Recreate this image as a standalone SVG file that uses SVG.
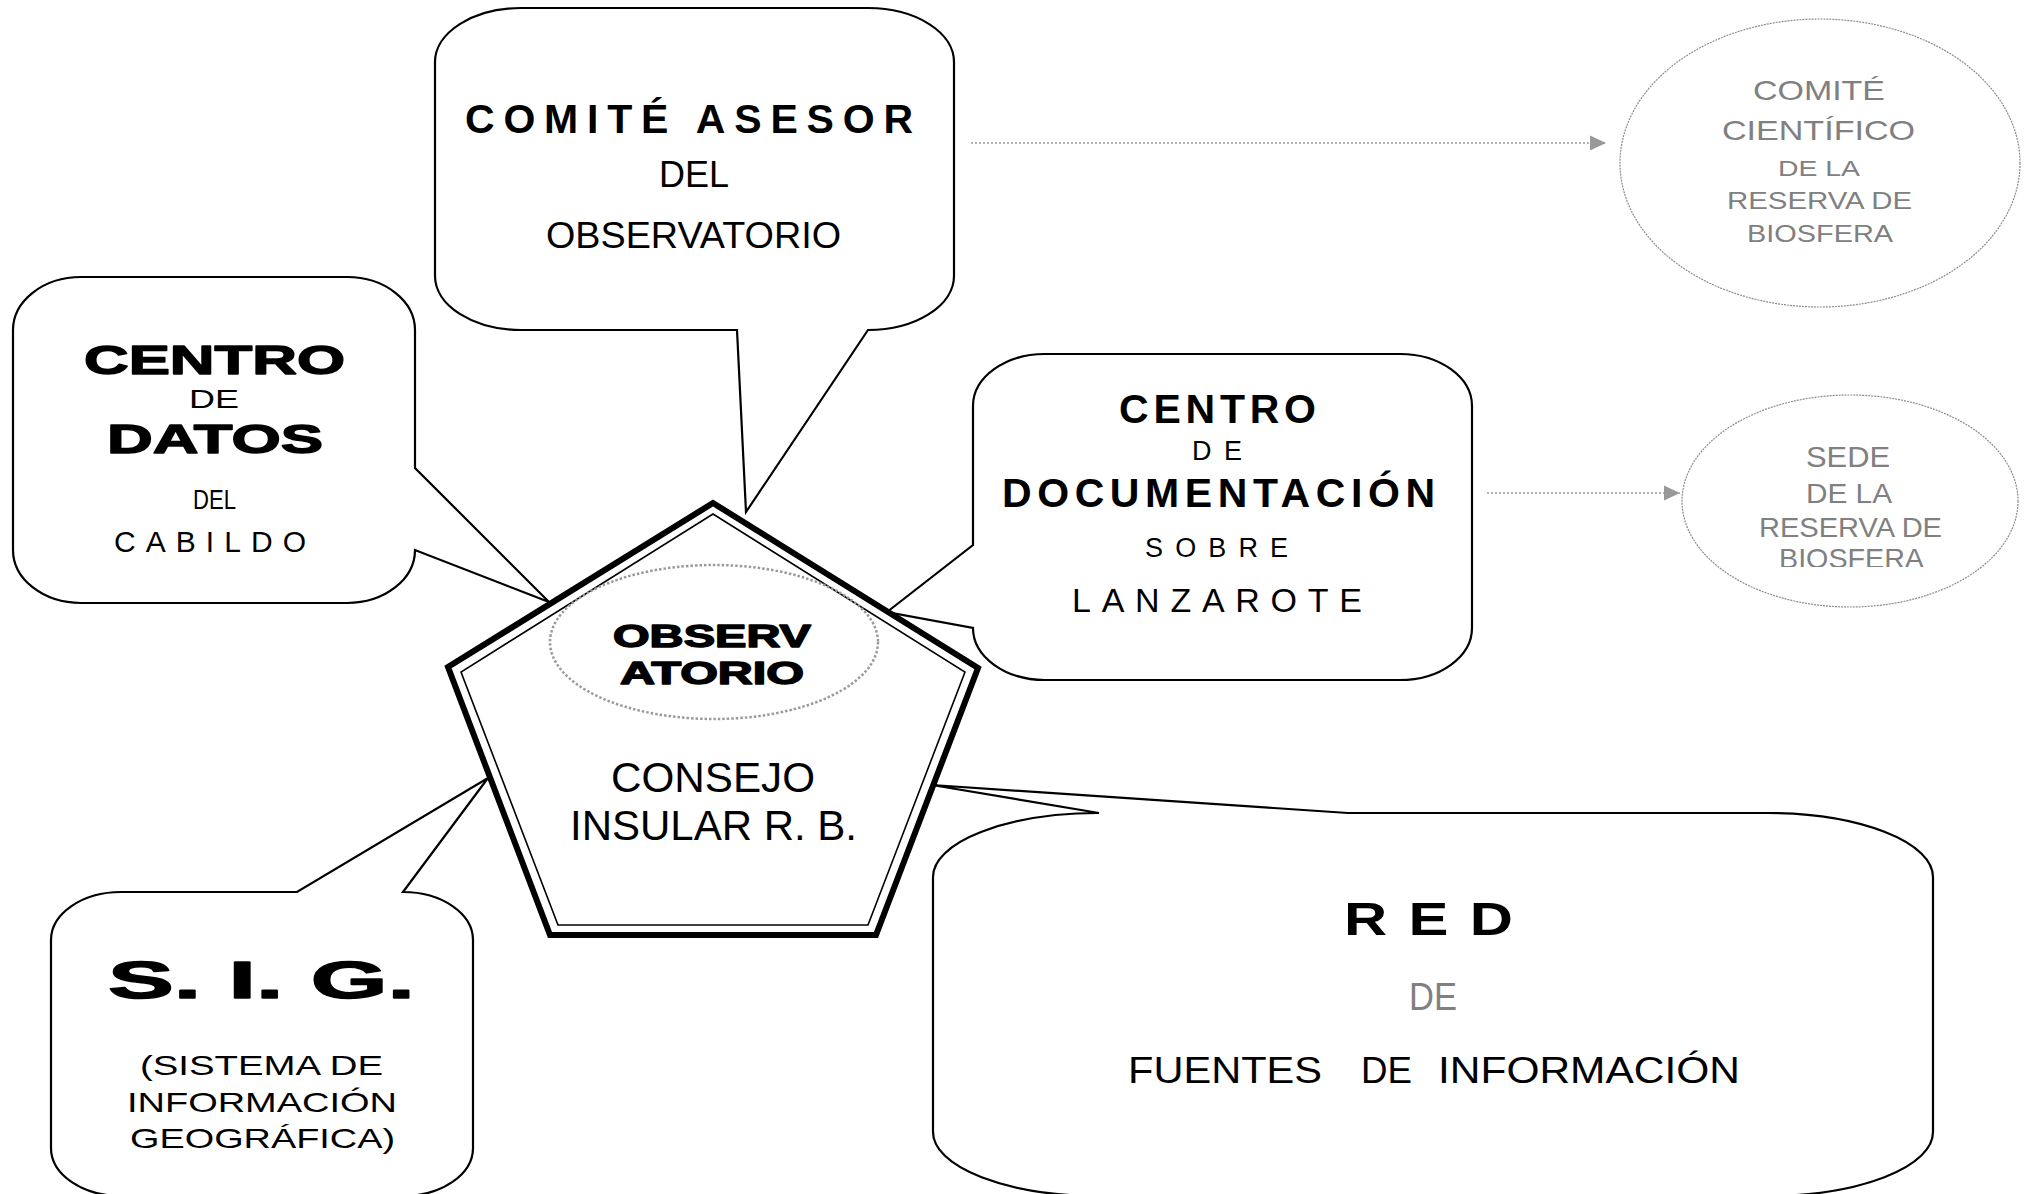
<svg xmlns="http://www.w3.org/2000/svg" width="2028" height="1194" viewBox="0 0 2028 1194">
<defs>
<style>
.shape{fill:#fff;stroke:#000;stroke-width:2.2;stroke-linejoin:miter}
.t{font-family:"Liberation Sans",Arial,sans-serif;fill:#000}
.n{font-family:"Liberation Sans Narrow","Liberation Sans",Arial,sans-serif}
.b{font-weight:bold}
.blk{font-weight:bold;stroke:#000;stroke-width:1.4;stroke-linejoin:round}
.g{fill:#808080}
.ell{fill:#fff;stroke:#8c8c8c;stroke-width:1.2;stroke-dasharray:2 1}
.conn{stroke:#9a9a9a;stroke-width:1.5;stroke-dasharray:2 2;fill:none}
</style>
<marker id="ah" markerUnits="userSpaceOnUse" markerWidth="16" markerHeight="16" viewBox="0 0 16 16" refX="16" refY="8" orient="auto"><path d="M0,0.5 L16,8 L0,15.5 Z" fill="#999"/></marker>
<clipPath id="sedeClip"><rect x="1680" y="380" width="345" height="187"/></clipPath>
</defs>
<rect width="2028" height="1194" fill="#fff"/>

<g id="comite-asesor">
<path class="shape" d="M521,8 H868 A86,54 0 0 1 954,62 V276 A86,54 0 0 1 868,330 L746,512 L737,330 H521 A86,54 0 0 1 435,276 V62 A86,54 0 0 1 521,8 Z"/>
<text class="t n b" x="465" y="133" font-size="41" textLength="448" lengthAdjust="spacing">COMITÉ ASESOR</text>
<text class="t" x="659" y="187" font-size="37" textLength="70" lengthAdjust="spacingAndGlyphs">DEL</text>
<text class="t" x="546" y="248" font-size="36" textLength="295" lengthAdjust="spacingAndGlyphs">OBSERVATORIO</text>
</g>

<g id="centro-datos">
<path class="shape" d="M81,277 H347 A68,53 0 0 1 415,330 V468 L549,602 L415,550 A68,53 0 0 1 347,603 H81 A68,53 0 0 1 13,550 V330 A68,53 0 0 1 81,277 Z"/>
<text class="t blk" x="84" y="374" font-size="41" textLength="261" lengthAdjust="spacingAndGlyphs">CENTRO</text>
<text class="t" x="189" y="408" font-size="25" textLength="50" lengthAdjust="spacingAndGlyphs">DE</text>
<text class="t blk" x="107" y="453" font-size="41" textLength="216" lengthAdjust="spacingAndGlyphs">DATOS</text>
<text class="t n" x="193" y="509" font-size="27" textLength="43" lengthAdjust="spacingAndGlyphs">DEL</text>
<text class="t" x="114" y="552" font-size="30" textLength="192" lengthAdjust="spacing">CABILDO</text>
</g>

<g id="centro-documentacion">
<path class="shape" d="M1045,354 H1400 A72,52 0 0 1 1472,406 V628 A72,52 0 0 1 1400,680 H1045 A72,52 0 0 1 973,628 L887,612 L973,545 V406 A72,52 0 0 1 1045,354 Z"/>
<text class="t n b" x="1119" y="423" font-size="41" textLength="197" lengthAdjust="spacing">CENTRO</text>
<text class="t" x="1192" y="460" font-size="27" textLength="50" lengthAdjust="spacing">DE</text>
<text class="t n b" x="1002" y="507" font-size="41" textLength="433" lengthAdjust="spacing">DOCUMENTACIÓN</text>
<text class="t" x="1145" y="557" font-size="27" textLength="143" lengthAdjust="spacing">SOBRE</text>
<text class="t" x="1072" y="612" font-size="34" textLength="290" lengthAdjust="spacing">LANZAROTE</text>
</g>

<g id="sig">
<path class="shape" d="M121,892 H297 L488,778 L403,892 A70,48 0 0 1 473,940 V1148 A70,48 0 0 1 403,1196 H121 A70,48 0 0 1 51,1148 V940 A70,48 0 0 1 121,892 Z"/>
<text class="t blk" x="108" y="998" font-size="52" textLength="307" lengthAdjust="spacingAndGlyphs">S. I. G.</text>
<text class="t" x="140" y="1075" font-size="28" textLength="243" lengthAdjust="spacingAndGlyphs">(SISTEMA DE</text>
<text class="t" x="127" y="1112" font-size="28" textLength="270" lengthAdjust="spacingAndGlyphs">INFORMACIÓN</text>
<text class="t" x="130" y="1148" font-size="28" textLength="265" lengthAdjust="spacingAndGlyphs">GEOGRÁFICA)</text>
</g>

<g id="red">
<path class="shape" d="M1099,813 L932,785 L1348,813 H1767 A166,64 0 0 1 1933,877 V1132 A166,64 0 0 1 1767,1196 H1099 A166,64 0 0 1 933,1132 V877 A166,64 0 0 1 1099,813 Z"/>
<text class="t b" transform="translate(1344,935) scale(1.3,1)" x="0" y="0" font-size="46" letter-spacing="16.4">RED</text>
<text class="t n g" x="1409" y="1010" font-size="38" textLength="48" lengthAdjust="spacingAndGlyphs">DE</text>
<text class="t n" y="1083" font-size="37"><tspan x="1128" textLength="194" lengthAdjust="spacingAndGlyphs">FUENTES</tspan> <tspan x="1361" textLength="51" lengthAdjust="spacingAndGlyphs">DE</tspan> <tspan x="1438" textLength="302" lengthAdjust="spacingAndGlyphs">INFORMACIÓN</tspan></text>
</g>

<g id="consejo-observatorio">
<polygon points="713,503 978,668 876,935 550,935 448,667" fill="#fff" stroke="#000" stroke-width="6" stroke-linejoin="miter"/>
<polygon points="713,514 965,672 868,925 558,925 461,672" fill="none" stroke="#000" stroke-width="1.6"/>
<ellipse cx="714" cy="642" rx="164" ry="77" fill="none" stroke="#9a9a9a" stroke-width="2.5" stroke-dasharray="2.5 2"/>
<text class="t blk" x="613" y="647" font-size="31" textLength="198" lengthAdjust="spacingAndGlyphs">OBSERV</text>
<text class="t blk" x="620" y="684" font-size="31" textLength="184" lengthAdjust="spacingAndGlyphs">ATORIO</text>
<text class="t" x="611" y="792" font-size="42" textLength="204" lengthAdjust="spacingAndGlyphs">CONSEJO</text>
<text class="t" x="570" y="840" font-size="42" textLength="287" lengthAdjust="spacingAndGlyphs">INSULAR R. B.</text>
</g>

<g id="comite-cientifico">
<ellipse class="ell" cx="1820" cy="163" rx="200" ry="144"/>
<text class="t g" x="1753" y="100" font-size="28" textLength="132" lengthAdjust="spacingAndGlyphs">COMITÉ</text>
<text class="t g" x="1722" y="140" font-size="28" textLength="193" lengthAdjust="spacingAndGlyphs">CIENTÍFICO</text>
<text class="t g" x="1778" y="176" font-size="22" textLength="82" lengthAdjust="spacingAndGlyphs">DE LA</text>
<text class="t g" x="1727" y="209" font-size="23" textLength="185" lengthAdjust="spacingAndGlyphs">RESERVA DE</text>
<text class="t g" x="1747" y="242" font-size="23" textLength="146" lengthAdjust="spacingAndGlyphs">BIOSFERA</text>
</g>

<g id="sede">
<ellipse class="ell" cx="1850" cy="501" rx="168" ry="106"/>
<text class="t g" x="1806" y="467" font-size="30" textLength="84" lengthAdjust="spacingAndGlyphs">SEDE</text>
<text class="t g" x="1806" y="503" font-size="28" textLength="86" lengthAdjust="spacingAndGlyphs">DE LA</text>
<text class="t g" x="1759" y="537" font-size="28" textLength="183" lengthAdjust="spacingAndGlyphs">RESERVA DE</text>
<text class="t g" x="1779" y="568" font-size="28" textLength="145" lengthAdjust="spacingAndGlyphs" clip-path="url(#sedeClip)">BIOSFERA</text>
</g>

<g id="connectors">
<line class="conn" x1="971" y1="143" x2="1606" y2="143" marker-end="url(#ah)"/>
<line class="conn" x1="1487" y1="493" x2="1680" y2="493" marker-end="url(#ah)"/>
</g>
</svg>
